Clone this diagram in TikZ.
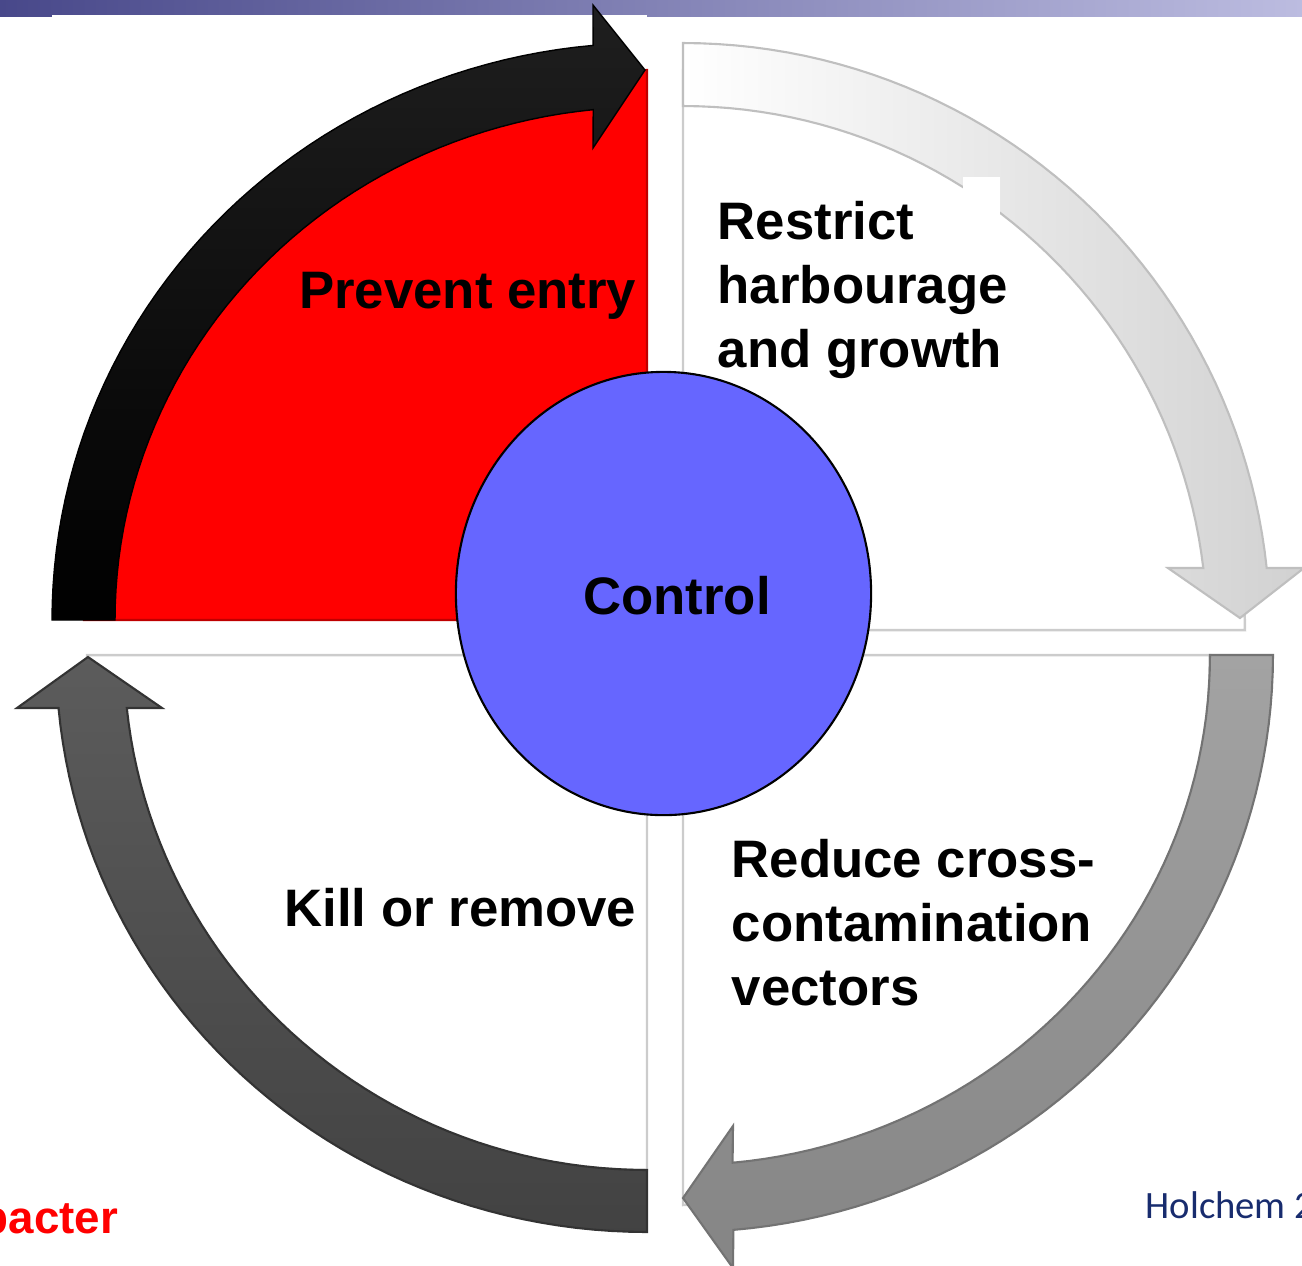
\documentclass[tikz,border=0pt]{standalone}
\usepackage{fontspec}
\setmainfont{Liberation Sans}
\newfontfamily\holfont{Carlito}
\usepackage{xcolor}

\definecolor{barleft}{RGB}{72,72,138}
\definecolor{barright}{RGB}{188,188,224}
\definecolor{ctrlblue}{RGB}{102,102,255}
\definecolor{holnavy}{RGB}{24,44,110}

\begin{document}
\begin{tikzpicture}[x=0.01cm, y=-0.01cm]
    \tikzstyle{quad} = [fill=white, draw=gray!40, line width=0.7pt]
    \tikzstyle{quadtext} = [font=\bfseries\fontsize{15}{18.2}\selectfont, inner sep=0pt, align=left]
    \useasboundingbox (0,0) rectangle (1302,1265);
    % title bar
    \shade[left color=barleft, right color=barright] (0,0) rectangle (1302,16);
    \fill[white] (52,15) rectangle (647,17);
    % quadrants
    \filldraw[fill=red, draw=red!75!black, line width=0.6pt] (647,620) -- plot[domain=180:90, samples=40, variable=\t] ({647+563*cos(\t)}, {620-550*sin(\t)}) -- cycle;
    \filldraw[quad] (683,630) -- plot[domain=90:0, samples=40, variable=\t] ({683+562*cos(\t)}, {630-560*sin(\t)}) -- cycle;
    \filldraw[quad] (683,655) -- plot[domain=0:-90, samples=40, variable=\t] ({683+527*cos(\t)}, {655-550*sin(\t)}) -- cycle;
    \filldraw[quad] (647,655) -- plot[domain=270:180, samples=40, variable=\t] ({647+560*cos(\t)}, {655-515*sin(\t)}) -- cycle;
    % arrows
    \shadedraw[top color=black!88, bottom color=black, draw=black]
        plot[domain=180:95.2, samples=50, variable=\t] ({647+595*cos(\t)}, {620-577*sin(\t)})
        -- (593,5) -- (645,70) -- (593,148)
        -- plot[domain=95.8:180, samples=50, variable=\t] ({647+532*cos(\t)}, {620-513*sin(\t)}) -- cycle;
    \shadedraw[left color=white, right color=black!18, draw=black!25, line width=0.6pt]
        plot[domain=90:6.06, samples=50, variable=\t] ({683+587*cos(\t)}, {630-587*sin(\t)})
        -- (1304,568) -- (1240,618) -- (1168,568)
        -- plot[domain=6.8:90, samples=50, variable=\t] ({683+524*cos(\t)}, {630-524*sin(\t)}) -- cycle;
    \shadedraw[top color=black!36, bottom color=black!48, draw=black!55, line width=0.6pt]
        plot[domain=0:-85.1, samples=50, variable=\t] ({683+590*cos(\t)}, {655-577*sin(\t)})
        -- (733,1268) -- (683,1198) -- (733,1126)
        -- plot[domain=-84.6:0, samples=50, variable=\t] ({683+527*cos(\t)}, {655-510*sin(\t)}) -- cycle;
    \shadedraw[top color=black!64, bottom color=black!74, draw=black!80, line width=0.6pt]
        plot[domain=270:185.27, samples=50, variable=\t] ({647+591*cos(\t)}, {655-577*sin(\t)})
        -- (17,708) -- (88,657) -- (162,708)
        -- plot[domain=185.9:270, samples=50, variable=\t] ({647+523*cos(\t)}, {655-515*sin(\t)}) -- cycle;
    \fill[white] (963,177) rectangle (1000,215);
    % centre
    \filldraw[fill=ctrlblue, draw=black, line width=0.6pt] (663.5,593.5) ellipse[x radius=2.075cm, y radius=2.215cm];
    \node[quadtext, anchor=base] (control) at (677,614) {Control};
    \node[quadtext, anchor=base east] (prevent) at (637,308) {Prevent entry};
    \node[quadtext, anchor=north west] (restrict) at (717,201) {Restrict\\harbourage\\and growth};
    \node[quadtext, anchor=north west] (reduce) at (731,839) {Reduce cross-\\contamination\\vectors};
    \node[quadtext, anchor=base east] (kill) at (637,926) {Kill or remove};
    % footer
    \node[font=\bfseries\fontsize{13}{15}\selectfont, text=red, inner sep=0pt, anchor=base west] (bacter) at (-20,1233) {bacter};
    \node[font=\holfont\fontsize{11}{13}\selectfont, text=holnavy, inner sep=0pt, anchor=base west] (holchem) at (1145,1218) {Holchem 2};
\end{tikzpicture}
\end{document}
